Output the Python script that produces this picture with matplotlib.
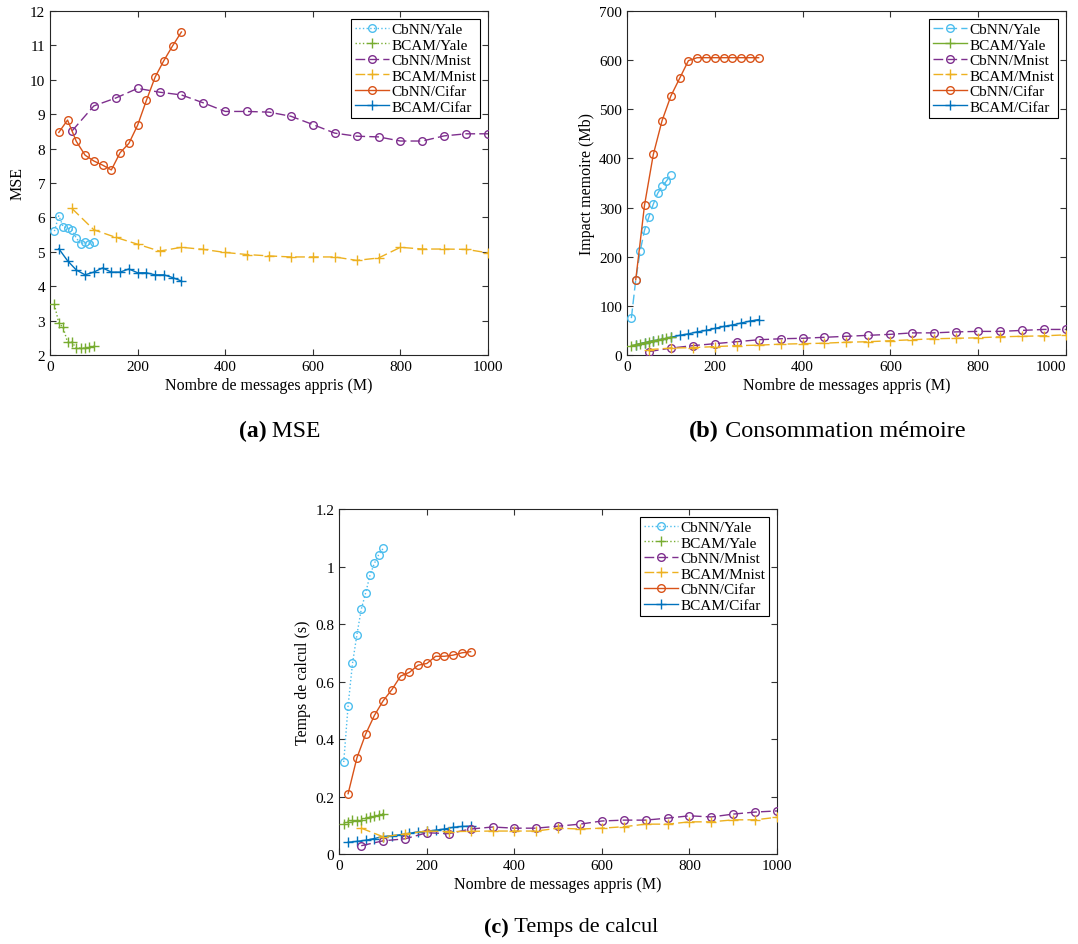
import matplotlib.pyplot as plt
from matplotlib.ticker import FormatStrFormatter

plt.rcParams['font.family'] = ['Liberation Serif', 'DejaVu Serif']

# x values (number of learned messages, M)
x_yale = [10, 20, 30, 40, 50, 60, 70, 80, 90, 100]
x_cifar = [20, 40, 60, 80, 100, 120, 140, 160, 180, 200, 220, 240, 260, 280, 300]
x_mnist = [50, 100, 150, 200, 250, 300, 350, 400, 450, 500,
           550, 600, 650, 700, 750, 800, 850, 900, 950, 1000]

# (a) MSE
mse_cbnn_yale = [5.60, 6.05, 5.73, 5.70, 5.63, 5.40, 5.23, 5.28, 5.22, 5.28]
mse_bcam_yale = [3.47, 2.93, 2.80, 2.37, 2.37, 2.20, 2.20, 2.20, 2.23, 2.27]
mse_cbnn_mnist = [8.51, 9.24, 9.47, 9.75, 9.64, 9.56, 9.33, 9.08, 9.08, 9.06,
                  8.94, 8.70, 8.45, 8.36, 8.34, 8.22, 8.22, 8.37, 8.43, 8.43]
mse_bcam_mnist = [6.26, 5.64, 5.42, 5.22, 5.02, 5.13, 5.07, 4.98, 4.92, 4.88,
                  4.85, 4.85, 4.85, 4.75, 4.82, 5.13, 5.08, 5.08, 5.07, 4.97]
mse_cbnn_cifar = [8.47, 8.83, 8.21, 7.81, 7.64, 7.52, 7.38, 7.88, 8.15, 8.68,
                  9.40, 10.08, 10.56, 10.99, 11.39]
mse_bcam_cifar = [5.09, 4.74, 4.47, 4.33, 4.41, 4.53, 4.41, 4.41, 4.50, 4.39,
                  4.39, 4.33, 4.33, 4.25, 4.15]

# (b) memory (Mb)
mem_cbnn_yale = [75, 153, 211, 254, 281, 307, 329, 343, 354, 367]
mem_bcam_yale = [19, 21, 23, 25, 27, 29, 30, 32, 34, 36]
mem_cbnn_mnist = [7, 14, 19, 23, 27, 31, 33, 34, 36, 38,
                  40, 42, 45, 45, 47, 48, 48, 50, 52, 52]
mem_bcam_mnist = [11, 14, 15, 17, 19, 20, 22, 23, 24, 26,
                  27, 29, 31, 33, 34, 35, 37, 38, 39, 41]
mem_cbnn_cifar = [153, 305, 408, 477, 527, 563, 599, 605, 605, 605,
                  605, 605, 605, 605, 605]
mem_bcam_cifar = [21, 25, 29, 32, 36, 40, 43, 47, 50, 54, 58, 61, 65, 69, 72]

# (c) computation time (s)
t_cbnn_yale = [0.320, 0.516, 0.663, 0.762, 0.851, 0.908, 0.970, 1.011, 1.042, 1.063]
t_bcam_yale = [0.104, 0.112, 0.117, 0.115, 0.120, 0.124, 0.128, 0.131, 0.137, 0.141]
t_cbnn_mnist = [0.029, 0.046, 0.053, 0.074, 0.071, 0.087, 0.094, 0.090, 0.090, 0.097,
                0.104, 0.115, 0.118, 0.118, 0.125, 0.133, 0.129, 0.139, 0.146, 0.150]
t_bcam_mnist = [0.090, 0.060, 0.070, 0.080, 0.078, 0.079, 0.080, 0.080, 0.080, 0.090,
                0.087, 0.090, 0.095, 0.104, 0.104, 0.112, 0.112, 0.119, 0.119, 0.128]
t_cbnn_cifar = [0.210, 0.334, 0.417, 0.482, 0.533, 0.572, 0.619, 0.632, 0.657, 0.663,
                0.688, 0.688, 0.692, 0.700, 0.704]
t_bcam_cifar = [0.041, 0.044, 0.048, 0.054, 0.061, 0.064, 0.067, 0.072, 0.077, 0.079,
                0.083, 0.087, 0.093, 0.096, 0.097]

labels = ['CbNN/Yale', 'BCAM/Yale', 'CbNN/Mnist', 'BCAM/Mnist', 'CbNN/Cifar', 'BCAM/Cifar']
colors = ['#4DBEEE', '#77AC30', '#7E2F8E', '#EDB120', '#D95319', '#0072BD']
markers = ['o', '+', 'o', '+', 'o', '+']
dashed = (0, (7, 3))


def draw(ax, series, styles, ylim, yticks, ylabel, fmt):
    xs = [x_yale, x_yale, x_mnist, x_mnist, x_cifar, x_cifar]
    zs = [3, 4, 3, 3, 3, 2]
    for x, y, lab, c, m, ls, z in zip(xs, series, labels, colors, markers, styles, zs):
        ax.plot(x, y, linestyle=ls, color=c, marker=m, mfc='none', mec=c,
                ms=5.5 if m == 'o' else 7.5, mew=1.0, lw=1.0, label=lab, zorder=z)
    ax.set_xlim(0, 1000)
    ax.set_ylim(*ylim)
    ax.set_xticks([0, 200, 400, 600, 800, 1000])
    ax.set_yticks(yticks)
    ax.yaxis.set_major_formatter(FormatStrFormatter(fmt))
    ax.tick_params(direction='in', top=True, right=True, labelsize=11,
                   length=4, color='#333333')
    for s in ax.spines.values():
        s.set_linewidth(0.8)
        s.set_color('#262626')
    ax.set_xlabel('Nombre de messages appris (M)', fontsize=11.5, labelpad=3)
    ax.set_ylabel(ylabel, fontsize=11.5, labelpad=3)
    leg = ax.legend(loc='upper right', fontsize=11, fancybox=False,
                    edgecolor='black', framealpha=1, handlelength=2.2,
                    borderpad=0.25, labelspacing=0.12, handletextpad=0.2,
                    borderaxespad=0.5)
    leg.get_frame().set_linewidth(0.8)


fig = plt.figure(figsize=(10.78, 9.45), dpi=100)
ax_a = fig.add_axes([0.0464, 0.6233, 0.4063, 0.364])
ax_b = fig.add_axes([0.5816, 0.6233, 0.4072, 0.364])
ax_c = fig.add_axes([0.3148, 0.0952, 0.4060, 0.365])

draw(ax_a, [mse_cbnn_yale, mse_bcam_yale, mse_cbnn_mnist, mse_bcam_mnist,
            mse_cbnn_cifar, mse_bcam_cifar],
     [':', ':', dashed, dashed, '-', '-'], (2, 12), range(2, 13), 'MSE', '%g')
draw(ax_b, [mem_cbnn_yale, mem_bcam_yale, mem_cbnn_mnist, mem_bcam_mnist,
            mem_cbnn_cifar, mem_bcam_cifar],
     [dashed, '-', dashed, dashed, '-', '-'], (0, 700), range(0, 701, 100),
     'Impact memoire (Mb)', '%g')
draw(ax_c, [t_cbnn_yale, t_bcam_yale, t_cbnn_mnist, t_bcam_mnist,
            t_cbnn_cifar, t_bcam_cifar],
     [':', ':', dashed, dashed, '-', '-'], (0, 1.2),
     [0, 0.2, 0.4, 0.6, 0.8, 1.0, 1.2], 'Temps de calcul (s)', '%g')

# last x tick label of (b) sits at the figure edge; nudge it inside
ax_b.get_xticklabels()[-1].set_ha('right')

caps = [(0.247, 0.543, '(a)', ' MSE', 17),
        (0.667, 0.543, '(b)', ' Consommation mémoire', 17.5),
        (0.472, 0.018, '(c)', ' Temps de calcul', 16)]
for cx, cy, tag, txt, fs in caps:
    fig.text(cx, cy, tag, fontsize=fs, fontweight='bold', ha='right', va='center')
    fig.text(cx, cy, txt, fontsize=fs, ha='left', va='center')

fig.savefig('out.png', dpi=100)
